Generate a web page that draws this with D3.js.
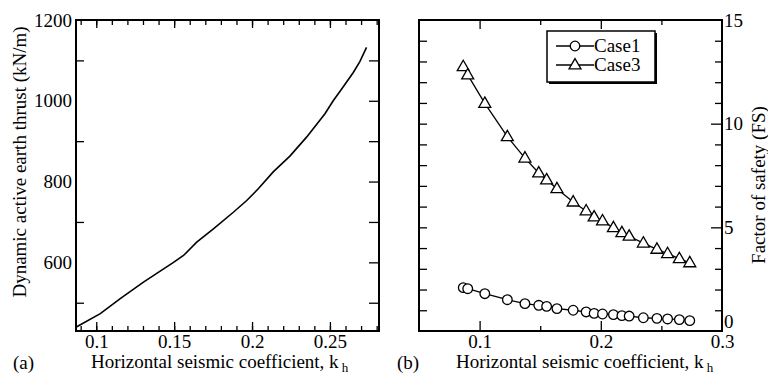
<!DOCTYPE html>
<html>
<head>
<meta charset="utf-8">
<script src="https://cdn.jsdelivr.net/npm/d3@7/dist/d3.min.js"></script>
<style>
  html, body { margin: 0; padding: 0; background: #fff; }
  svg { display: block; font-family: "Liberation Serif", "Times New Roman", serif; }
  .tick text { font-family: "Liberation Serif", "Times New Roman", serif; }
</style>
</head>
<body>
<svg id="chart" width="768" height="374"></svg>
<script>
// (a) Dynamic active earth thrust vs horizontal seismic coefficient
const thrustKh = [0.0872, 0.1026, 0.1154, 0.1303, 0.1496, 0.1560, 0.1645, 0.1752, 0.1880, 0.1966,
                  0.2040, 0.2136, 0.2243, 0.2350, 0.2468, 0.2521, 0.2564, 0.2650, 0.2692, 0.2735];
const thrust   = [440, 473, 510, 551, 600, 617, 650, 683, 724, 753,
                  782, 824, 863, 910, 968, 1000, 1023, 1070, 1097, 1132];

// (b) Factor of safety for the two cases
const kh    = [0.0865, 0.0902, 0.1043, 0.1229, 0.1374, 0.1488, 0.1553, 0.1638, 0.1772, 0.1879,
               0.1945, 0.2014, 0.2104, 0.2174, 0.2234, 0.2351, 0.2463, 0.2551, 0.2648, 0.2734];
const case1 = [2.09, 2.04, 1.80, 1.51, 1.32, 1.24, 1.19, 1.08, 1.00, 0.92,
               0.85, 0.82, 0.79, 0.74, 0.72, 0.64, 0.61, 0.58, 0.55, 0.50];
const case3 = [12.75, 12.35, 10.98, 9.37, 8.34, 7.62, 7.29, 6.86, 6.22, 5.79,
               5.50, 5.31, 4.98, 4.74, 4.57, 4.24, 3.94, 3.73, 3.49, 3.29];

const seriesNames = ["Case1", "Case3"];
const thrustTicks = [600, 800, 1000, 1200];
const thrustMinor = [500, 700, 900, 1100];
const khTicksA = [0.1, 0.15, 0.2, 0.25];
const khTicksB = [0.1, 0.2, 0.3];
const fsTicks = [0, 5, 10, 15];

const svg = d3.select("#chart");
const FONT = 19;

function frame(x0, x1, y0, y1) {
  svg.append("rect")
    .attr("x", x0).attr("y", y0)
    .attr("width", x1 - x0).attr("height", y1 - y0)
    .attr("fill", "none").attr("stroke", "#000").attr("stroke-width", 2);
}

// draws ticks (no domain line) through a d3 axis generator
function ticks(axisFn, scale, values, size, translate, labels) {
  const ax = axisFn(scale).tickValues(values).tickSize(size).tickPadding(4)
    .tickFormat(labels ? d3.format("") : "");
  const g = svg.append("g").attr("transform", translate).call(ax);
  g.select(".domain").remove();
  g.selectAll(".tick line").attr("stroke", "#000").attr("stroke-width", 1.3);
  g.selectAll(".tick text").attr("font-size", FONT).attr("fill", "#000");
  return g;
}

// ---------- Panel (a) ----------
const xA = d3.scaleLinear().domain([0.087, 0.2815]).range([76, 379]);
const yA = d3.scaleLinear().domain([430, 1200]).range([331, 20]);
const minorA = d3.range(9, 29).map(d => d / 100);

ticks(d3.axisBottom, xA, minorA, -5, "translate(0,331)", false);
ticks(d3.axisBottom, xA, khTicksA, -9, "translate(0,331)", true)
  .selectAll("text").attr("dy", "0.71em");
ticks(d3.axisTop, xA, minorA, -5, "translate(0,20)", false);
ticks(d3.axisTop, xA, khTicksA, -8, "translate(0,20)", false);
ticks(d3.axisLeft, yA, thrustMinor, -8, "translate(76,0)", false);
ticks(d3.axisLeft, yA, thrustTicks, 0, "translate(76,0)", true);
ticks(d3.axisRight, yA, thrustMinor.concat([600, 800, 1000]), -10, "translate(379,0)", false);

svg.append("path")
  .datum(thrustKh.map((k, i) => [k, thrust[i]]))
  .attr("fill", "none").attr("stroke", "#000").attr("stroke-width", 1.6)
  .attr("d", d3.line().x(d => xA(d[0])).y(d => yA(d[1])));

frame(76, 379, 20, 331);

svg.append("text")
  .attr("transform", "translate(26,162) rotate(-90)")
  .attr("text-anchor", "middle").attr("font-size", FONT)
  .text("Dynamic active earth thrust (kN/m)");

function xTitle(x, y) {
  const t = svg.append("text").attr("x", x).attr("y", y).attr("font-size", FONT);
  t.append("tspan").text("Horizontal seismic coefficient, k");
  t.append("tspan").attr("dx", 3).attr("dy", 4).attr("font-size", 13).text("h");
}
svg.append("text").attr("x", 13).attr("y", 369).attr("font-size", FONT).text("(a)");
xTitle(91, 368);

// ---------- Panel (b) ----------
const xB = d3.scaleLinear().domain([0.05, 0.3]).range([419, 722]);
const yB = d3.scaleLinear().domain([0, 15]).range([331, 20]);
const fsMinor = d3.range(1, 15).filter(d => d % 5 !== 0);

ticks(d3.axisBottom, xB, [0.15, 0.25], -5, "translate(0,331)", false);
ticks(d3.axisBottom, xB, [0.1, 0.2], -10, "translate(0,331)", false);
ticks(d3.axisBottom, xB, khTicksB, 0, "translate(0,331)", true)
  .selectAll("text").attr("dy", "0.71em");
ticks(d3.axisTop, xB, [0.15, 0.25], -5, "translate(0,20)", false);
ticks(d3.axisTop, xB, [0.1, 0.2], -9, "translate(0,20)", false);
ticks(d3.axisLeft, yB, d3.range(1, 15), -8, "translate(419,0)", false);
ticks(d3.axisRight, yB, fsMinor, -7, "translate(722,0)", false);
ticks(d3.axisRight, yB, [5, 10], -11, "translate(722,0)", false);
const fsLabels = ticks(d3.axisRight, yB, fsTicks, 0, "translate(722,0)", true);
fsLabels.selectAll("text").attr("x", 2);
// the zero label sits just above the corner so it clears the "0.3" below it
fsLabels.selectAll(".tick").filter(d => d === 0).select("text").attr("y", -10);

const lineB = d3.line().x(d => xB(d[0])).y(d => yB(d[1]));
const triangle = d3.symbol().type(d3.symbolTriangle).size(62);

function series(values, marker) {
  const pts = kh.map((k, i) => [k, values[i]]);
  svg.append("path").datum(pts)
    .attr("fill", "none").attr("stroke", "#000").attr("stroke-width", 1.3)
    .attr("d", lineB);
  const g = svg.append("g");
  pts.forEach(p => marker(g, xB(p[0]), yB(p[1])));
}
function circleMark(g, x, y) {
  g.append("circle").attr("cx", x).attr("cy", y).attr("r", 4.8)
    .attr("fill", "#fff").attr("stroke", "#000").attr("stroke-width", 1.3);
}
function triMark(g, x, y) {
  g.append("path").attr("d", triangle).attr("transform", `translate(${x},${y + 0.5})`)
    .attr("fill", "#fff").attr("stroke", "#000").attr("stroke-width", 1.3);
}
series(case1, circleMark);
series(case3, triMark);

frame(419, 722, 20, 331);

// legend
const lg = svg.append("g");
lg.append("rect").attr("x", 549).attr("y", 33).attr("width", 108).attr("height", 51).attr("fill", "#000");
lg.append("rect").attr("x", 547).attr("y", 31).attr("width", 108).attr("height", 51)
  .attr("fill", "#fff").attr("stroke", "#000").attr("stroke-width", 1.5);
[[seriesNames[0], circleMark, 46], [seriesNames[1], triMark, 65]].forEach(([name, mk, y]) => {
  lg.append("line").attr("x1", 556).attr("x2", 594).attr("y1", y).attr("y2", y)
    .attr("stroke", "#000").attr("stroke-width", 1.3);
  mk(lg, 575, y);
  lg.append("text").attr("x", 594).attr("y", y + 6).attr("font-size", FONT).text(name);
});

svg.append("text")
  .attr("transform", "translate(765,185) rotate(-90)")
  .attr("text-anchor", "middle").attr("font-size", FONT)
  .text("Factor of safety (FS)");

svg.append("text").attr("x", 397).attr("y", 369).attr("font-size", FONT).text("(b)");
xTitle(456, 368);
</script>
</body>
</html>
